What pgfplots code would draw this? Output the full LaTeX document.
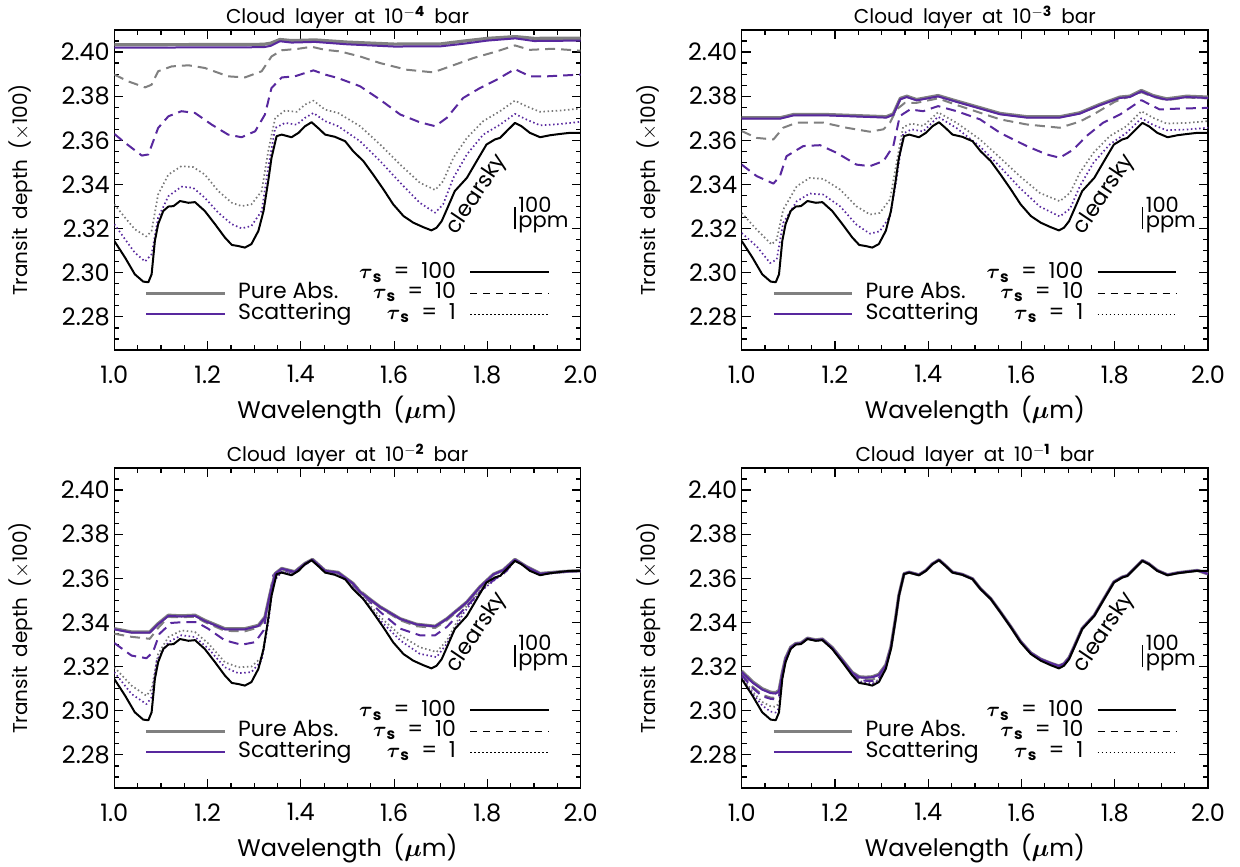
\documentclass[border=0pt]{standalone}
\usepackage{amsmath}
\usepackage{fontspec}
\setmainfont{Poppins}
\newfontfamily\wsfont[WordSpace=1.8]{Poppins}
\usepackage{pgfplots}
\usepackage{pgfplotstable}
\pgfplotsset{compat=1.18}
\definecolor{scpurple}{RGB}{88,40,158}
\definecolor{pagrey}{RGB}{128,128,128}
\definecolor{dotgrey}{RGB}{120,120,120}

\pgfplotstableread{
lam cs
1.000 2.3144
1.023 2.3069
1.044 2.2993
1.062 2.2960
1.073 2.2957
1.080 2.2993
1.087 2.3144
1.094 2.3220
1.105 2.3280
1.116 2.3300
1.127 2.3302
1.141 2.3325
1.159 2.3317
1.173 2.3320
1.194 2.3280
1.216 2.3220
1.237 2.3160
1.252 2.3126
1.266 2.3121
1.280 2.3114
1.294 2.3130
1.309 2.3190
1.320 2.3280
1.330 2.3415
1.337 2.3520
1.348 2.3619
1.359 2.3626
1.380 2.3614
1.395 2.3634
1.409 2.3664
1.423 2.3682
1.437 2.3656
1.452 2.3626
1.473 2.3616
1.495 2.3596
1.512 2.3551
1.534 2.3506
1.555 2.3445
1.577 2.3378
1.598 2.3310
1.620 2.3257
1.641 2.3227
1.662 2.3207
1.680 2.3192
1.691 2.3204
1.702 2.3234
1.713 2.3287
1.730 2.3370
1.756 2.3430
1.777 2.3506
1.798 2.3581
1.816 2.3604
1.827 2.3611
1.841 2.3641
1.859 2.3679
1.873 2.3664
1.891 2.3634
1.913 2.3614
1.934 2.3623
1.956 2.3629
1.977 2.3634
2.000 2.3634
}\clearsky

\pgfplotstableread{
lam pa100 sc100 pa10 sc10 pa1 sc1
1.000 2.3180 2.3176 2.3168 2.3162 2.3156 2.3150
1.023 2.3132 2.3128 2.3110 2.3104 2.3088 2.3078
1.044 2.3100 2.3096 2.3072 2.3066 2.3040 2.3024
1.062 2.3084 2.3080 2.3060 2.3054 2.3020 2.2996
1.073 2.3082 2.3078 2.3058 2.3052 2.3018 2.2992
1.080 2.3092 2.3088 2.3070 2.3064 2.3034 2.3012
1.087 2.3172 2.3168 2.3162 2.3160 2.3155 2.3150
1.094 2.3238 2.3235 2.3232 2.3230 2.3227 2.3224
1.105 2.3288 2.3286 2.3285 2.3284 2.3283 2.3282
1.116 2.3305 2.3304 2.3303 2.3302 2.3302 2.3301
1.127 2.3307 2.3306 2.3305 2.3304 2.3304 2.3303
1.141 2.3329 2.3328 2.3327 2.3327 2.3326 2.3326
1.159 2.3321 2.3320 2.3319 2.3319 2.3318 2.3318
1.173 2.3325 2.3324 2.3323 2.3322 2.3322 2.3321
1.194 2.3287 2.3285 2.3284 2.3283 2.3282 2.3281
1.216 2.3230 2.3228 2.3226 2.3225 2.3223 2.3222
1.237 2.3174 2.3172 2.3169 2.3167 2.3165 2.3163
1.252 2.3154 2.3151 2.3144 2.3140 2.3135 2.3131
1.266 2.3152 2.3150 2.3141 2.3136 2.3129 2.3125
1.280 2.3154 2.3152 2.3141 2.3135 2.3126 2.3121
1.294 2.3165 2.3162 2.3153 2.3148 2.3141 2.3137
1.309 2.3208 2.3205 2.3201 2.3199 2.3196 2.3194
1.320 2.3290 2.3288 2.3286 2.3285 2.3284 2.3283
1.330 2.3421 2.3420 2.3419 2.3418 2.3417 2.3417
1.337 2.3524 2.3523 2.3522 2.3522 2.3521 2.3521
1.348 2.3621 2.3621 2.3620 2.3620 2.3620 2.3620
1.359 2.3628 2.3628 2.3627 2.3627 2.3627 2.3627
1.380 2.3616 2.3616 2.3615 2.3615 2.3615 2.3615
1.395 2.3636 2.3636 2.3635 2.3635 2.3635 2.3635
1.409 2.3666 2.3666 2.3665 2.3665 2.3665 2.3665
1.423 2.3684 2.3684 2.3683 2.3683 2.3683 2.3683
1.437 2.3658 2.3658 2.3657 2.3657 2.3657 2.3657
1.452 2.3628 2.3628 2.3627 2.3627 2.3627 2.3627
1.473 2.3618 2.3618 2.3617 2.3617 2.3617 2.3617
1.495 2.3598 2.3598 2.3597 2.3597 2.3597 2.3597
1.512 2.3553 2.3553 2.3552 2.3552 2.3552 2.3552
1.534 2.3508 2.3508 2.3507 2.3507 2.3507 2.3507
1.555 2.3447 2.3447 2.3446 2.3446 2.3446 2.3446
1.577 2.3381 2.3381 2.3380 2.3380 2.3379 2.3379
1.598 2.3314 2.3314 2.3313 2.3312 2.3311 2.3311
1.620 2.3262 2.3262 2.3261 2.3260 2.3259 2.3258
1.641 2.3234 2.3234 2.3232 2.3231 2.3230 2.3229
1.662 2.3216 2.3216 2.3214 2.3213 2.3211 2.3210
1.680 2.3203 2.3203 2.3200 2.3199 2.3197 2.3196
1.691 2.3213 2.3213 2.3210 2.3209 2.3207 2.3206
1.702 2.3241 2.3241 2.3239 2.3238 2.3237 2.3236
1.713 2.3292 2.3292 2.3290 2.3290 2.3289 2.3289
1.730 2.3373 2.3373 2.3372 2.3372 2.3371 2.3371
1.756 2.3433 2.3433 2.3432 2.3432 2.3431 2.3431
1.777 2.3509 2.3509 2.3508 2.3508 2.3507 2.3507
1.798 2.3584 2.3584 2.3583 2.3583 2.3582 2.3582
1.816 2.3606 2.3606 2.3605 2.3605 2.3605 2.3605
1.827 2.3613 2.3613 2.3612 2.3612 2.3612 2.3612
1.841 2.3643 2.3643 2.3642 2.3642 2.3642 2.3642
1.859 2.3681 2.3681 2.3680 2.3680 2.3680 2.3680
1.873 2.3666 2.3666 2.3665 2.3665 2.3665 2.3665
1.891 2.3636 2.3636 2.3635 2.3635 2.3635 2.3635
1.913 2.3616 2.3616 2.3615 2.3615 2.3615 2.3615
1.934 2.3625 2.3625 2.3624 2.3624 2.3624 2.3624
1.956 2.3631 2.3631 2.3630 2.3630 2.3630 2.3630
1.977 2.3636 2.3636 2.3635 2.3635 2.3635 2.3635
2.000 2.3620 2.3620 2.3628 2.3628 2.3630 2.3630
}\brtab

\newcommand\tauS{$\boldsymbol{\tau}_{\mathbf{s}}$}
\newcommand\panelextras{%
  \draw[black, line width=2pt] (axis description cs:0.763,0.245) -- (axis description cs:0.931,0.245);
  \draw[black, line width=1.6pt, dash pattern=on 7pt off 6pt] (axis description cs:0.763,0.177) -- (axis description cs:0.931,0.177);
  \draw[black, line width=1.6pt, dash pattern=on 1.5pt off 2.5pt] (axis description cs:0.763,0.111) -- (axis description cs:0.931,0.111);
  \draw[pagrey, line width=3pt] (axis description cs:0.069,0.177) -- (axis description cs:0.237,0.177);
  \draw[scpurple, line width=2pt] (axis description cs:0.069,0.111) -- (axis description cs:0.237,0.111);
  \node[anchor=base west, inner sep=0pt] at (axis description cs:0.265,0.1615) {Pure Abs.};
  \node[anchor=base west, inner sep=0pt] at (axis description cs:0.265,0.096) {Scattering};
  \node[anchor=base east, inner sep=0pt] at (axis description cs:0.733,0.222) {\tauS\ \ =\ \ 100};
  \node[anchor=base east, inner sep=0pt] at (axis description cs:0.733,0.1615) {\tauS\ \ =\ \ 10};
  \node[anchor=base east, inner sep=0pt] at (axis description cs:0.733,0.096) {\tauS\ \ =\ \ 1};
  \node[rotate=56, inner sep=0pt] at (axis cs:1.778,2.3354) {clearsky};
  \draw[black, line width=1.5pt] (axis cs:1.859,2.3198) -- (axis cs:1.859,2.3298);
  \node[anchor=base west, inner sep=0pt, font=\fontsize{21}{22}\selectfont] at (axis cs:1.866,2.3274) {100};
  \node[anchor=base west, inner sep=0pt, font=\fontsize{21}{22}\selectfont] at (axis cs:1.866,2.3206) {ppm};
}

\pgfplotsset{
  panel/.style={
    scale only axis, width=466.4pt, height=320pt,
    anchor=south west,
    xmin=1, xmax=2, ymin=2.265, ymax=2.41,
    xtick={1.0,1.2,1.4,1.6,1.8,2.0},
    minor xtick={1.05,1.10,1.15,1.25,1.30,1.35,1.45,1.50,1.55,1.65,1.70,1.75,1.85,1.90,1.95},
    ytick={2.28,2.30,2.32,2.34,2.36,2.38,2.40},
    minor ytick={2.265,2.270,2.275,2.285,2.290,2.295,2.305,2.310,2.315,2.325,2.330,2.335,2.345,2.350,2.355,2.365,2.370,2.375,2.385,2.390,2.395,2.405},
    tick align=inside,
    major tick length=9pt, minor tick length=5pt,
    every tick/.style={black, line width=1.2pt},
    axis line style={line width=1.5pt},
    /pgf/number format/assume math mode=true,
    x tick label style={/pgf/number format/fixed, /pgf/number format/fixed zerofill, /pgf/number format/precision=1, yshift=-12pt},
    y tick label style={/pgf/number format/fixed, /pgf/number format/fixed zerofill, /pgf/number format/precision=2, xshift=-1pt},
    tick label style={font=\fontsize{24}{28}\selectfont},
    xlabel style={font=\wsfont\fontsize{24}{28}\selectfont, yshift=-6pt},
    ylabel style={font=\wsfont\fontsize{20}{24}\selectfont, yshift=21pt},
    every axis title/.style={at={(0.5,1)}, anchor=south, yshift=-1pt, inner sep=2pt, font=\wsfont\fontsize{20}{22}\selectfont},
    xlabel={Wavelength ($\boldsymbol{\mu}$m)},
    ylabel={Transit depth ($\times$100)},
    font=\fontsize{22}{26}\selectfont,
    every axis plot/.append style={line join=round},
  },
  clear/.style={black, line width=2pt},
  pa100/.style={pagrey, line width=3.2pt},
  sc100/.style={scpurple, line width=2pt},
  pa10/.style={pagrey, line width=2pt, dash pattern=on 10pt off 6pt},
  sc10/.style={scpurple, line width=2pt, dash pattern=on 10pt off 6pt},
  pa1/.style={dotgrey, line width=1.7pt, dash pattern=on 1.5pt off 2.6pt},
  sc1/.style={scpurple, line width=1.7pt, dash pattern=on 1.5pt off 2.6pt},
}

\begin{document}
\begin{tikzpicture}
\useasboundingbox (0,0) rectangle (1240pt,867pt);

% ---------------- top left: 1e-4 bar
\begin{axis}[panel, at={(114.3pt,517pt)}, title={Cloud layer at 10$^{\mathbf{-4}}$ bar}]
\addplot[pa1] coordinates {(1.000,2.3310) (1.023,2.3250) (1.044,2.3197) (1.069,2.3164) (1.080,2.3190) (1.094,2.3355) (1.116,2.3445) (1.144,2.3483) (1.169,2.3479) (1.194,2.3445) (1.223,2.3370) (1.252,2.3317) (1.273,2.3302) (1.294,2.3310) (1.316,2.3370) (1.330,2.3551) (1.345,2.3702) (1.366,2.3735) (1.391,2.3729) (1.409,2.3762) (1.427,2.3780) (1.452,2.3739) (1.480,2.3724) (1.527,2.3664) (1.570,2.3581) (1.613,2.3490) (1.655,2.3408) (1.688,2.3375) (1.705,2.3415) (1.727,2.3521) (1.756,2.3611) (1.791,2.3687) (1.827,2.3732) (1.859,2.3780) (1.884,2.3754) (1.913,2.3729) (1.956,2.3735) (2.000,2.3744)};
\addplot[sc1] coordinates {(1.000,2.3220) (1.023,2.3152) (1.044,2.3091) (1.066,2.3051) (1.080,2.3084) (1.094,2.3250) (1.116,2.3347) (1.144,2.3390) (1.169,2.3385) (1.194,2.3340) (1.223,2.3272) (1.252,2.3220) (1.273,2.3201) (1.294,2.3212) (1.316,2.3280) (1.330,2.3476) (1.345,2.3656) (1.366,2.3679) (1.391,2.3671) (1.409,2.3702) (1.427,2.3724) (1.452,2.3687) (1.480,2.3664) (1.527,2.3596) (1.570,2.3506) (1.613,2.3408) (1.655,2.3317) (1.688,2.3272) (1.705,2.3310) (1.727,2.3430) (1.756,2.3536) (1.791,2.3626) (1.827,2.3671) (1.859,2.3720) (1.884,2.3694) (1.913,2.3668) (1.956,2.3674) (2.000,2.3684)};
\addplot[pa10] coordinates {(1.000,2.3898) (1.030,2.3867) (1.066,2.3840) (1.080,2.3852) (1.094,2.3913) (1.123,2.3935) (1.159,2.3940) (1.194,2.3928) (1.244,2.3890) (1.280,2.3885) (1.316,2.3913) (1.337,2.3980) (1.359,2.4008) (1.395,2.4015) (1.423,2.4024) (1.452,2.4010) (1.484,2.4003) (1.527,2.3980) (1.570,2.3950) (1.627,2.3920) (1.684,2.3908) (1.720,2.3935) (1.770,2.3973) (1.820,2.4003) (1.859,2.4030) (1.891,2.4010) (1.941,2.4015) (2.000,2.4006)};
\addplot[sc10] coordinates {(1.000,2.3629) (1.023,2.3589) (1.059,2.3531) (1.073,2.3536) (1.094,2.3656) (1.116,2.3709) (1.144,2.3732) (1.173,2.3724) (1.209,2.3671) (1.244,2.3626) (1.273,2.3614) (1.302,2.3641) (1.323,2.3717) (1.337,2.3837) (1.359,2.3885) (1.387,2.3890) (1.409,2.3905) (1.427,2.3917) (1.452,2.3898) (1.480,2.3882) (1.527,2.3845) (1.570,2.3784) (1.613,2.3717) (1.655,2.3682) (1.688,2.3664) (1.713,2.3702) (1.748,2.3792) (1.784,2.3837) (1.820,2.3875) (1.859,2.3923) (1.891,2.3890) (1.927,2.3890) (2.000,2.3898)};
\addplot[pa100] coordinates {(1.000,2.4033) (1.200,2.4034) (1.320,2.4035) (1.335,2.4040) (1.355,2.4057) (1.380,2.4052) (1.430,2.4055) (1.500,2.4045) (1.600,2.4036) (1.700,2.4037) (1.750,2.4050) (1.800,2.4062) (1.860,2.4070) (1.900,2.4062) (2.000,2.4063)};
\addplot[sc100] coordinates {(1.000,2.4020) (1.200,2.4021) (1.320,2.4022) (1.335,2.4028) (1.355,2.4049) (1.380,2.4043) (1.430,2.4046) (1.500,2.4035) (1.600,2.4025) (1.700,2.4026) (1.750,2.4038) (1.800,2.4052) (1.860,2.4062) (1.900,2.4050) (2.000,2.4052)};
\addplot[clear] table[x=lam, y=cs] {\clearsky};
\panelextras
\end{axis}

% ---------------- top right: 1e-3 bar
\begin{axis}[panel, at={(741.7pt,517pt)}, title={Cloud layer at 10$^{\mathbf{-3}}$ bar}]
\addplot[pa1] coordinates {(1.000,2.3271) (1.032,2.3196) (1.064,2.3128) (1.075,2.3150) (1.089,2.3286) (1.118,2.3392) (1.146,2.3430) (1.175,2.3425) (1.211,2.3377) (1.246,2.3301) (1.275,2.3264) (1.296,2.3271) (1.318,2.3332) (1.332,2.3498) (1.346,2.3660) (1.364,2.3676) (1.389,2.3665) (1.421,2.3727) (1.461,2.3679) (1.511,2.3604) (1.554,2.3521) (1.596,2.3438) (1.639,2.3362) (1.682,2.3324) (1.704,2.3362) (1.725,2.3453) (1.754,2.3543) (1.789,2.3619) (1.825,2.3664) (1.857,2.3732) (1.882,2.3702) (1.911,2.3676) (1.954,2.3679) (2.000,2.3687)};
\addplot[sc1] coordinates {(1.000,2.3180) (1.032,2.3120) (1.061,2.3044) (1.075,2.3060) (1.089,2.3226) (1.118,2.3324) (1.146,2.3359) (1.175,2.3354) (1.211,2.3301) (1.246,2.3218) (1.275,2.3177) (1.296,2.3188) (1.318,2.3256) (1.332,2.3422) (1.346,2.3630) (1.364,2.3650) (1.389,2.3640) (1.421,2.3707) (1.461,2.3655) (1.511,2.3572) (1.554,2.3480) (1.596,2.3385) (1.639,2.3300) (1.682,2.3255) (1.704,2.3290) (1.725,2.3392) (1.754,2.3498) (1.789,2.3581) (1.825,2.3634) (1.857,2.3700) (1.882,2.3670) (1.911,2.3646) (1.954,2.3649) (2.000,2.3657)};
\addplot[pa10] coordinates {(1.000,2.3642) (1.032,2.3611) (1.068,2.3604) (1.089,2.3657) (1.118,2.3680) (1.175,2.3680) (1.225,2.3657) (1.275,2.3639) (1.304,2.3650) (1.318,2.3680) (1.332,2.3740) (1.350,2.3770) (1.375,2.3770) (1.421,2.3790) (1.461,2.3760) (1.511,2.3725) (1.554,2.3695) (1.611,2.3672) (1.682,2.3657) (1.725,2.3685) (1.754,2.3717) (1.800,2.3775) (1.857,2.3818) (1.882,2.3797) (1.911,2.3782) (1.954,2.3794) (2.000,2.3790)};
\addplot[sc10] coordinates {(1.000,2.3490) (1.032,2.3438) (1.068,2.3404) (1.082,2.3438) (1.096,2.3528) (1.132,2.3574) (1.168,2.3578) (1.204,2.3543) (1.246,2.3490) (1.275,2.3483) (1.304,2.3506) (1.325,2.3574) (1.339,2.3710) (1.361,2.3740) (1.389,2.3732) (1.421,2.3755) (1.461,2.3732) (1.511,2.3695) (1.554,2.3634) (1.611,2.3574) (1.654,2.3536) (1.682,2.3521) (1.711,2.3558) (1.739,2.3619) (1.775,2.3680) (1.811,2.3717) (1.857,2.3782) (1.896,2.3740) (1.939,2.3744) (2.000,2.3747)};
\addplot[pa100] coordinates {(1.000,2.3702) (1.082,2.3702) (1.111,2.3717) (1.182,2.3717) (1.310,2.3707) (1.325,2.3720) (1.340,2.3790) (1.354,2.3800) (1.375,2.3785) (1.421,2.3803) (1.461,2.3778) (1.511,2.3748) (1.554,2.3722) (1.611,2.3707) (1.682,2.3707) (1.725,2.3725) (1.768,2.3763) (1.811,2.3796) (1.832,2.3800) (1.857,2.3826) (1.882,2.3803) (1.911,2.3788) (1.954,2.3800) (2.000,2.3796)};
\addplot[sc100] coordinates {(1.000,2.3698) (1.082,2.3698) (1.111,2.3713) (1.182,2.3713) (1.310,2.3703) (1.325,2.3716) (1.340,2.3786) (1.354,2.3796) (1.375,2.3781) (1.421,2.3799) (1.461,2.3774) (1.511,2.3744) (1.554,2.3718) (1.611,2.3703) (1.682,2.3703) (1.725,2.3721) (1.768,2.3759) (1.811,2.3792) (1.832,2.3796) (1.857,2.3822) (1.882,2.3799) (1.911,2.3784) (1.954,2.3796) (2.000,2.3792)};
\addplot[clear] table[x=lam, y=cs] {\clearsky};
\panelextras
\end{axis}

% ---------------- bottom left: 1e-2 bar
\begin{axis}[panel, at={(114.3pt,79pt)}, title={Cloud layer at 10$^{\mathbf{-2}}$ bar}]
\addplot[pa1] coordinates {(1.000,2.3197) (1.037,2.3114) (1.069,2.3068) (1.080,2.3099) (1.094,2.3258) (1.116,2.3334) (1.144,2.3364) (1.173,2.3357) (1.202,2.3304) (1.237,2.3220) (1.266,2.3197) (1.294,2.3200) (1.316,2.3243) (1.330,2.3410) (1.341,2.3592) (1.360,2.3636) (1.380,2.3623) (1.395,2.3643) (1.409,2.3666) (1.425,2.3684) (1.452,2.3630) (1.480,2.3622) (1.512,2.3566) (1.570,2.3425) (1.613,2.3342) (1.655,2.3288) (1.691,2.3266) (1.713,2.3319) (1.748,2.3455) (1.784,2.3546) (1.820,2.3607) (1.840,2.3630) (1.859,2.3683) (1.884,2.3650) (1.913,2.3618) (1.956,2.3627) (2.000,2.3633)};
\addplot[sc1] coordinates {(1.000,2.3175) (1.037,2.3076) (1.069,2.3030) (1.080,2.3061) (1.091,2.3228) (1.116,2.3311) (1.144,2.3342) (1.173,2.3334) (1.202,2.3281) (1.237,2.3197) (1.266,2.3170) (1.294,2.3175) (1.316,2.3228) (1.330,2.3395) (1.341,2.3584) (1.360,2.3632) (1.380,2.3620) (1.395,2.3640) (1.409,2.3666) (1.425,2.3683) (1.452,2.3628) (1.480,2.3620) (1.512,2.3562) (1.570,2.3410) (1.613,2.3319) (1.655,2.3258) (1.691,2.3243) (1.713,2.3304) (1.748,2.3440) (1.784,2.3539) (1.820,2.3600) (1.840,2.3628) (1.859,2.3682) (1.884,2.3648) (1.913,2.3617) (1.956,2.3626) (2.000,2.3632)};
\addplot[pa10] coordinates {(1.000,2.3349) (1.037,2.3335) (1.076,2.3326) (1.094,2.3375) (1.116,2.3425) (1.144,2.3424) (1.173,2.3426) (1.194,2.3402) (1.237,2.3362) (1.280,2.3360) (1.309,2.3377) (1.323,2.3415) (1.334,2.3525) (1.345,2.3620) (1.359,2.3642) (1.387,2.3628) (1.409,2.3666) (1.425,2.3684) (1.452,2.3633) (1.480,2.3625) (1.512,2.3574) (1.570,2.3466) (1.613,2.3410) (1.648,2.3383) (1.688,2.3375) (1.713,2.3410) (1.756,2.3488) (1.784,2.3558) (1.813,2.3616) (1.834,2.3637) (1.859,2.3685) (1.884,2.3652) (1.913,2.3621) (1.956,2.3629) (2.000,2.3634)};
\addplot[sc10] coordinates {(1.000,2.3307) (1.037,2.3250) (1.069,2.3238) (1.083,2.3266) (1.097,2.3349) (1.122,2.3398) (1.151,2.3402) (1.176,2.3402) (1.201,2.3372) (1.237,2.3319) (1.273,2.3299) (1.302,2.3311) (1.320,2.3364) (1.330,2.3486) (1.341,2.3615) (1.359,2.3638) (1.387,2.3625) (1.409,2.3663) (1.425,2.3681) (1.452,2.3630) (1.480,2.3621) (1.512,2.3570) (1.570,2.3448) (1.613,2.3372) (1.655,2.3342) (1.688,2.3342) (1.713,2.3380) (1.756,2.3474) (1.791,2.3554) (1.827,2.3615) (1.840,2.3633) (1.859,2.3684) (1.884,2.3651) (1.913,2.3620) (1.956,2.3628) (2.000,2.3633)};
\addplot[pa100] coordinates {(1.000,2.3372) (1.037,2.3357) (1.076,2.3357) (1.094,2.3395) (1.116,2.3433) (1.144,2.3430) (1.173,2.3433) (1.194,2.3410) (1.237,2.3372) (1.280,2.3372) (1.309,2.3387) (1.323,2.3425) (1.334,2.3531) (1.345,2.3622) (1.359,2.3645) (1.387,2.3630) (1.409,2.3668) (1.425,2.3686) (1.452,2.3635) (1.480,2.3627) (1.512,2.3577) (1.527,2.3539) (1.570,2.3471) (1.613,2.3417) (1.648,2.3392) (1.688,2.3383) (1.713,2.3417) (1.756,2.3493) (1.784,2.3562) (1.813,2.3619) (1.834,2.3638) (1.859,2.3686) (1.884,2.3653) (1.913,2.3622) (1.956,2.3630) (2.000,2.3635)};
\addplot[sc100] coordinates {(1.000,2.3369) (1.037,2.3354) (1.076,2.3354) (1.094,2.3392) (1.116,2.3430) (1.144,2.3427) (1.173,2.3430) (1.194,2.3407) (1.237,2.3369) (1.280,2.3369) (1.309,2.3384) (1.323,2.3422) (1.334,2.3529) (1.345,2.3621) (1.359,2.3644) (1.387,2.3629) (1.409,2.3667) (1.425,2.3685) (1.452,2.3634) (1.480,2.3626) (1.512,2.3576) (1.527,2.3538) (1.570,2.3470) (1.613,2.3416) (1.648,2.3391) (1.688,2.3382) (1.713,2.3416) (1.756,2.3492) (1.784,2.3561) (1.813,2.3618) (1.834,2.3637) (1.859,2.3685) (1.884,2.3652) (1.913,2.3621) (1.956,2.3629) (2.000,2.3634)};
\addplot[clear] table[x=lam, y=cs] {\clearsky};
\panelextras
\end{axis}

% ---------------- bottom right: 1e-1 bar
\begin{axis}[panel, at={(741.7pt,79pt)}, title={Cloud layer at 10$^{\mathbf{-1}}$ bar}]
\addplot[pa1] table[x=lam, y=pa1] {\brtab};
\addplot[sc1] table[x=lam, y=sc1] {\brtab};
\addplot[pa10] table[x=lam, y=pa10] {\brtab};
\addplot[sc10] table[x=lam, y=sc10] {\brtab};
\addplot[pa100] table[x=lam, y=pa100] {\brtab};
\addplot[sc100] table[x=lam, y=sc100] {\brtab};
\addplot[clear] table[x=lam, y=cs] {\clearsky};
\panelextras
\end{axis}
\end{tikzpicture}
\end{document}
